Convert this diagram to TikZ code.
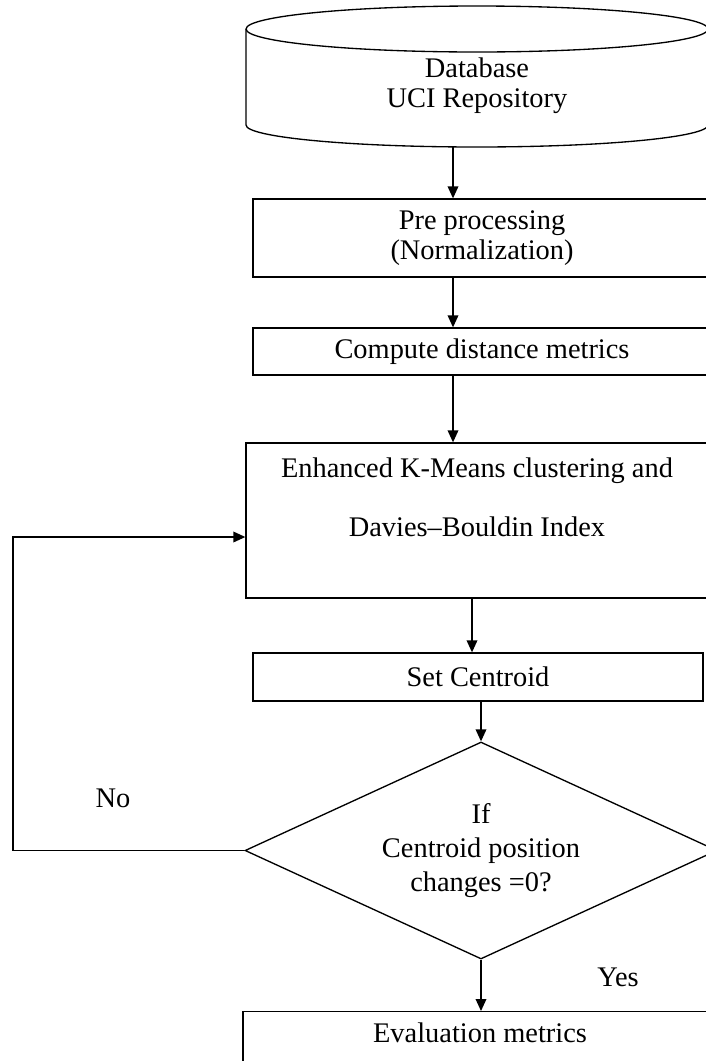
\documentclass[tikz,border=0pt]{standalone}
\usepackage{fontspec}
\setmainfont{Liberation Serif}
\usetikzlibrary{arrows.meta,shapes.geometric}
\begin{document}
\begin{tikzpicture}[x=0.75pt,y=-0.75pt,
  line width=1pt,
  txt/.style={font=\fontsize{21.3pt}{22.5pt}\selectfont, align=center, inner sep=0pt},
  box/.style={draw, rectangle, inner sep=0pt, line width=1pt},
  arr/.style={-{Triangle[length=9pt,width=8pt]}, line width=1pt}]
\useasboundingbox (0,0) rectangle (706,1061);
\clip (0,0) rectangle (706,1061);
\fill[white] (0,0) rectangle (706,1061);
% cylinder
\draw (477,29) ellipse [x radius=231, y radius=23];
\draw (246,29) -- (246,125) arc[start angle=180, end angle=0, x radius=231, y radius=22] -- (708,29);
\node[txt] (db) at (477,86) {Database\\UCI Repository};
\coordinate (dbb) at (477,147);
\coordinate (c1) at (453,0);
\coordinate (c2) at (472,0);
% boxes
\node[box, txt, minimum width=343.5pt, minimum height=58.5pt] (pre) at (482,238) {Pre processing\\(Normalization)};
\node[box, txt, minimum width=343.5pt, minimum height=35.25pt] (cdm) at (482,351.5) {Compute distance metrics};
\node[box, minimum width=346.5pt, minimum height=116.25pt] (ekm) at (477,520.5) {};
\node[txt] (ekmt) at (477,497.5) {Enhanced K-Means clustering and\\[21.75pt]Davies–Bouldin Index};
\node[box, txt, minimum width=337.5pt, minimum height=36pt] (sc) at (478,677) {Set Centroid};
\node[draw, diamond, aspect=2.175, txt, font=\fontsize{21.3pt}{25.5pt}\selectfont, minimum width=354pt, minimum height=162.75pt, inner sep=0pt] (dia) at (481,850.5) {If\\Centroid position\\changes =0?};
\node[box, minimum width=355.5pt, minimum height=48pt, anchor=north] (eval) at (480,1011) {};
\node[txt] (evalt) at (480,1033) {Evaluation metrics};
\node[txt] (no) at (113,798) {No};
\node[txt] (yes) at (618,977) {Yes};
% connectors
\draw[arr] (dbb -| c1) -- (pre.north -| c1);
\draw[arr] (pre.south -| c1) -- (cdm.north -| c1);
\draw[arr] (cdm.south -| c1) -- (ekm.north -| c1);
\draw[arr] (ekm.south -| c2) -- (sc.north -| c2);
\draw[arr] (sc.south -| dia.north) -- (dia.north);
\draw[arr] (dia.south) -- (eval.north -| dia.south);
\coordinate (fb) at (13,537);
\draw[arr] (dia.west) -| (fb) -- (fb -| ekm.west);
\end{tikzpicture}
\end{document}
